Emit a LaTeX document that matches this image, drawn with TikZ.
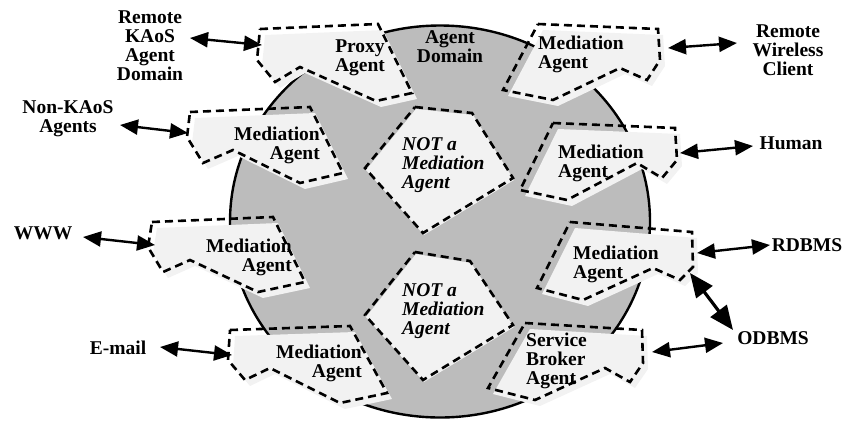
\documentclass[tikz,border=0pt]{standalone}
\usepackage{fontspec}
\setmainfont{Liberation Serif}
\usetikzlibrary{arrows.meta}
\definecolor{domaingray}{RGB}{188,188,188}
\definecolor{agentfill}{RGB}{242,242,242}

% an agent: a light shape with its dashed outline set slightly up and left
\newcommand{\agentpoly}[2][{(5,6)}]{%
  \fill[agentfill, shift={#1}] #2 -- cycle;
  \draw[agentedge] #2 -- cycle;}

\begin{document}
\begin{tikzpicture}[x=1pt, y=-1pt,
  lbl/.style={font=\bfseries\fontsize{19.5}{19}\selectfont, inner sep=0pt, align=center},
  leftlbl/.style={lbl, align=left, anchor=west},
  rightlbl/.style={lbl, align=right, anchor=east},
  notlbl/.style={font=\bfseries\itshape\fontsize{19.5}{19}\selectfont, inner sep=0pt, align=left, anchor=west},
  agentedge/.style={draw=black, line width=2.6pt, dash pattern=on 8pt off 5pt, line join=miter},
  link/.style={line width=2.4pt, {Triangle[length=18pt,width=15pt]}-{Triangle[length=18pt,width=15pt]}},
  biglink/.style={line width=3.2pt, {Triangle[length=24pt,width=20pt]}-{Triangle[length=24pt,width=20pt]}}
]
\useasboundingbox (0,0) rectangle (842,421);

% the agent domain
\draw[fill=domaingray, line width=2.4pt] (440,221.5) ellipse [x radius=210pt, y radius=196pt];

% agents on the rim of the domain
\agentpoly{(260,29) -- (378,24) -- (412,93) -- (376,101) -- (300,67) -- (275,82) -- (257,60)}
\agentpoly{(190,112) -- (310,107) -- (343,173) -- (300,183) -- (233,150) -- (203,163) -- (187,137)}
\agentpoly{(152,222) -- (273,217) -- (305,282) -- (258,292) -- (190,260) -- (163,272) -- (148,247)}
\agentpoly{(230,330) -- (350,326) -- (387,393) -- (340,403) -- (270,368) -- (245,380) -- (228,360)}
\agentpoly{(538,24) -- (658,29) -- (660,60) -- (647,80) -- (620,68) -- (553,100) -- (503,90)}
\agentpoly{(553,123) -- (675,128) -- (677,160) -- (662,178) -- (637,163) -- (567,200) -- (520,190)}
\agentpoly{(570,222) -- (692,232) -- (693,267) -- (680,280) -- (653,268) -- (583,300) -- (537,288)}
\agentpoly{(525,323) -- (642,330) -- (643,363) -- (630,382) -- (605,368) -- (535,400) -- (488,388)}

% agents inside the domain
\agentpoly[{(1,2)}]{(415,107) -- (472,113) -- (513,178) -- (423,233) -- (365,168)}
\agentpoly[{(1,2)}]{(415,252) -- (470,261) -- (513,325) -- (423,380) -- (365,315)}

% labels
\node[lbl] (domain) at (450,47) {Agent\\Domain};
\node[lbl] (proxy) at (360,57.5) {Proxy\\Agent};
\node[rightlbl] (medA) at (320,145) {Mediation\\Agent};
\node[rightlbl] (medB) at (292,257.5) {Mediation\\Agent};
\node[rightlbl] (medC) at (362,363) {Mediation\\Agent};
\node[leftlbl] (medD) at (538,54) {Mediation\\Agent};
\node[leftlbl] (medE) at (558,163) {Mediation\\Agent};
\node[leftlbl] (medF) at (573,264.5) {Mediation\\Agent};
\node[leftlbl] (broker) at (526,361) {Service\\Broker\\Agent};
\node[notlbl] (notA) at (402,165) {NOT a\\Mediation\\Agent};
\node[notlbl] (notB) at (402,311.5) {NOT a\\Mediation\\Agent};

% outside parties
\node[lbl] (kaos) at (150,45.5) {Remote\\KAoS\\Agent\\Domain};
\node[lbl] (nonkaos) at (68,119) {Non-KAoS\\Agents};
\node[lbl] (www) at (43,233) {WWW};
\node[lbl] (email) at (118,348) {E-mail};
\node[lbl] (wireless) at (788,50) {Remote\\Wireless\\Client};
\node[lbl] (human) at (791,143) {Human};
\node[lbl] (rdbms) at (807,245) {RDBMS};
\node[lbl] (odbms) at (773,338) {ODBMS};

% connector ends
\coordinate (kaosE) at (190,38);   \coordinate (proxyW) at (262,45);
\coordinate (nonkaosE) at (120,125); \coordinate (medAW) at (188,133);
\coordinate (wwwE) at (83,237);    \coordinate (medBW) at (155,245);
\coordinate (emailE) at (160,347); \coordinate (medCW) at (232,355);
\coordinate (medDE) at (668,48);   \coordinate (wirelessW) at (737,43);
\coordinate (medEE) at (680,153);  \coordinate (humanW) at (753,146);
\coordinate (medFE) at (697,253);  \coordinate (rdbmsW) at (770,245);
\coordinate (medFS) at (690,273);  \coordinate (odbmsN) at (733,330);
\coordinate (brokerE) at (652,352); \coordinate (odbmsW) at (723,343);

\draw[link] (kaosE) -- (proxyW);
\draw[link] (nonkaosE) -- (medAW);
\draw[link] (wwwE) -- (medBW);
\draw[link] (emailE) -- (medCW);
\draw[link] (medDE) -- (wirelessW);
\draw[link] (medEE) -- (humanW);
\draw[link] (medFE) -- (rdbmsW);
\draw[biglink] (medFS) -- (odbmsN);
\draw[link] (brokerE) -- (odbmsW);
\end{tikzpicture}
\end{document}
